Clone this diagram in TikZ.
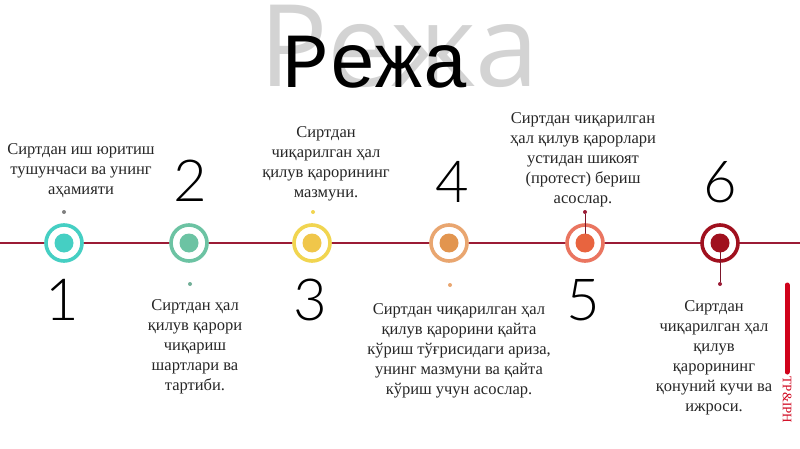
\documentclass[tikz,border=0pt]{standalone}
\usepackage{fontspec}
\setmainfont{Liberation Serif}
\newfontfamily\titlefont{Liberation Mono}
\newfontfamily\shadowfont{Open Sans}
\newfontfamily\numfont{Lato}[UprightFont=* Light]
\newfontfamily\tagfont{Liberation Serif}
\definecolor{lineRed}{HTML}{9B1B35}
\definecolor{cA}{HTML}{45CFC3}
\definecolor{cB}{HTML}{6CC3A3}
\definecolor{cC}{HTML}{F1D550}
\definecolor{cCd}{HTML}{F0C64A}
\definecolor{cD}{HTML}{E9A670}
\definecolor{cDd}{HTML}{E2954F}
\definecolor{cE}{HTML}{EA7560}
\definecolor{cEd}{HTML}{E8643F}
\definecolor{cF}{HTML}{A0101E}
\definecolor{barRed}{HTML}{D0021B}
\begin{document}
\begin{tikzpicture}[x=1pt,y=-1pt,
  ring/.style={circle,draw=#1,line width=3.6pt,minimum size=36pt,inner sep=0pt,fill=white},
  dot/.style={circle,fill=#1,minimum size=19pt,inner sep=0pt},
  tick/.style={circle,fill=#1,minimum size=4pt,inner sep=0pt},
  desc/.style={align=center,font=\fontsize{16.5}{20}\selectfont,text=black!85},
  num/.style={font=\numfont\fontsize{58}{58}\selectfont,text=black},
  stem/.style={draw=lineRed!80!black,line width=0.6pt}]
\useasboundingbox (0,0) rectangle (800,449);
\fill[white] (0,0) rectangle (800,449);
% title
\node[text=gray!40,opacity=0.85,font=\shadowfont\fontsize{114}{114}\selectfont] (shadow) at (399,46) {Режа};
\node[font=\titlefont\fontsize{78}{78}\selectfont] (title) at (376,62) {Режа};
% timeline
\coordinate (L) at (0,243);
\coordinate (R) at (800,243);
\draw[lineRed,line width=1.4pt] (L) -- (R);
% circles
\node[ring=cA] (c1) at (64,243) {};
\node[ring=cB] (c2) at (189,243) {};
\node[ring=cC] (c3) at (312,243) {};
\node[ring=cD] (c4) at (449,243) {};
\node[ring=cE] (c5) at (585,243) {};
\node[ring=cF] (c6) at (720,243) {};
% ticks
\node[tick=gray] (d1) at (64,212) {};
\node[tick=cB!70!gray] (d2) at (190,284) {};
\node[tick=cC] (d3) at (313,212) {};
\node[tick=cD] (d4) at (450,285) {};
\node[tick=lineRed] (d5) at (585,212) {};
\node[tick=lineRed] (d6) at (720,284) {};
\draw[stem] (d5) -- (c5.center);
\draw[stem] (c6.center) -- (d6);
\node[dot=cA] at (c1) {};
\node[dot=cB] at (c2) {};
\node[dot=cCd] at (c3) {};
\node[dot=cDd] at (c4) {};
\node[dot=cEd] at (c5) {};
\node[dot=cF] at (c6) {};
% numbers
\node[num] (n1) at (62,300) {1};
\node[num] (n2) at (190,181) {2};
\node[num] (n3) at (310,300) {3};
\node[num] (n4) at (452,182) {4};
\node[num] (n5) at (583,300) {5};
\node[num] (n6) at (720,182) {6};
% descriptions
\node[desc] (t1) at (81,171) {Сиртдан иш юритиш\\тушунчаси ва унинг\\аҳамияти};
\node[desc] (t2) at (195,347) {Сиртдан ҳал\\қилув қарори\\чиқариш\\шартлари ва\\тартиби.};
\node[desc] (t3) at (326,164) {Сиртдан\\чиқарилган ҳал\\қилув қарорининг\\мазмуни.};
\node[desc] (t4) at (459,351) {Сиртдан чиқарилган ҳал\\қилув қарорини қайта\\кўриш тўғрисидаги ариза,\\унинг мазмуни ва қайта\\кўриш учун асослар.};
\node[desc] (t5) at (583,160) {Сиртдан чиқарилган\\ҳал қилув қарорлари\\устидан шикоят\\(протест) бериш\\асослар.};
\node[desc] (t6) at (714,358) {Сиртдан\\чиқарилган ҳал\\қилув\\қарорининг\\қонуний кучи ва\\ижроси.};
% side bar
\coordinate (b1) at (787,285);
\coordinate (b2) at (787,372);
\draw[barRed,line width=5pt,line cap=round] (b1) -- (b2);
\node[rotate=-90,text=barRed,font=\tagfont\fontsize{13}{13}\selectfont] (tag) at (787,400) {TP\&IPH};
\end{tikzpicture}
\end{document}
